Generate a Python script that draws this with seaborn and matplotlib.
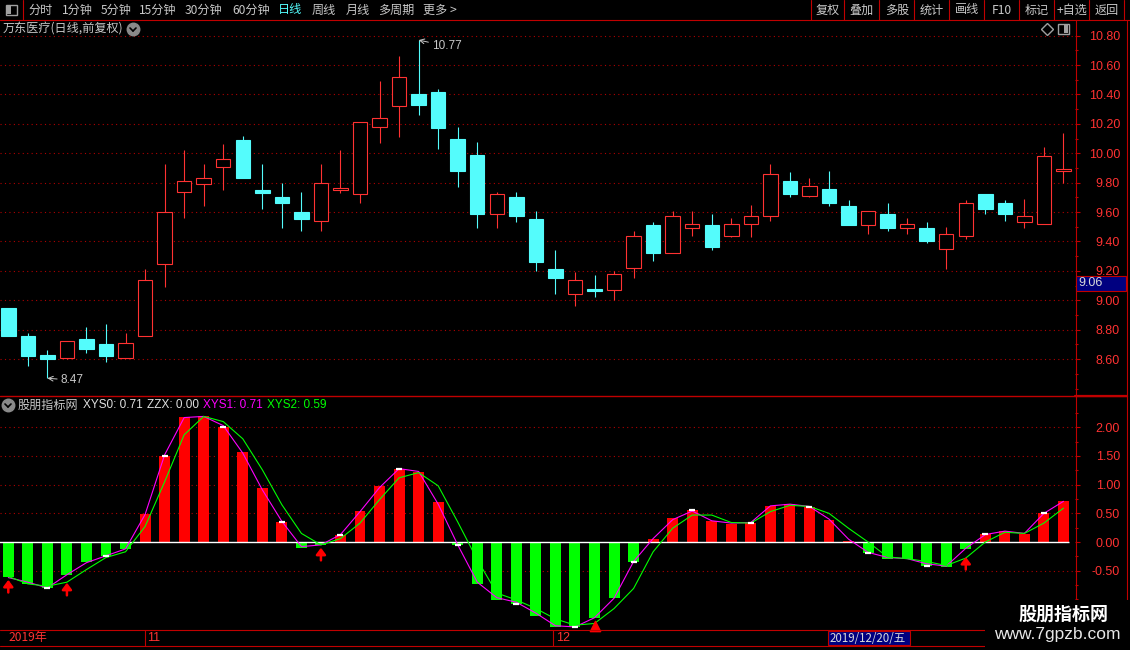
import numpy as np
import pandas as pd
import matplotlib
matplotlib.use("Agg")
import matplotlib.pyplot as plt
import seaborn as sns
from matplotlib.lines import Line2D
from matplotlib.patches import Rectangle

# 日线数据 (万东医疗, 前复权)
opens = [8.95, 8.76, 8.63, 8.61, 8.74, 8.70, 8.61, 8.76, 9.25, 9.74,
         9.79, 9.91, 10.09, 9.75, 9.70, 9.60, 9.54, 9.75, 9.72, 10.18,
         10.32, 10.40, 10.42, 10.10, 9.99, 9.59, 9.70, 9.55, 9.21, 9.04,
         9.075, 9.07, 9.22, 9.51, 9.32, 9.49, 9.51, 9.44, 9.52, 9.57,
         9.81, 9.71, 9.76, 9.64, 9.51, 9.59, 9.49, 9.49, 9.35, 9.44,
         9.72, 9.66, 9.53, 9.52, 9.878]
closes = [8.76, 8.62, 8.60, 8.72, 8.67, 8.62, 8.71, 9.14, 9.60, 9.81,
          9.83, 9.96, 9.83, 9.73, 9.66, 9.55, 9.80, 9.762, 10.21, 10.24,
          10.52, 10.33, 10.17, 9.88, 9.59, 9.72, 9.57, 9.26, 9.15, 9.14,
          9.065, 9.18, 9.44, 9.32, 9.57, 9.52, 9.36, 9.52, 9.57, 9.86,
          9.72, 9.78, 9.66, 9.51, 9.61, 9.49, 9.52, 9.40, 9.45, 9.66,
          9.62, 9.59, 9.57, 9.98, 9.891]
highs = [8.95, 8.78, 8.66, 8.72, 8.82, 8.84, 8.78, 9.21, 9.93, 10.02,
         9.93, 10.06, 10.12, 9.93, 9.80, 9.74, 9.93, 10.02, 10.21, 10.49,
         10.66, 10.77, 10.44, 10.18, 10.08, 9.74, 9.74, 9.61, 9.34, 9.19,
         9.17, 9.20, 9.47, 9.53, 9.61, 9.61, 9.59, 9.56, 9.65, 9.93,
         9.87, 9.83, 9.88, 9.68, 9.61, 9.66, 9.56, 9.53, 9.50, 9.68,
         9.72, 9.68, 9.69, 10.04, 10.14]
lows = [8.76, 8.55, 8.47, 8.60, 8.64, 8.58, 8.61, 8.76, 9.09, 9.56,
        9.64, 9.75, 9.83, 9.62, 9.49, 9.47, 9.47, 9.73, 9.66, 10.07,
        10.11, 10.26, 10.03, 9.77, 9.49, 9.49, 9.53, 9.20, 9.04, 8.96,
        9.02, 9.00, 9.15, 9.27, 9.32, 9.44, 9.34, 9.43, 9.43, 9.54,
        9.70, 9.70, 9.64, 9.51, 9.45, 9.47, 9.45, 9.39, 9.21, 9.42,
        9.59, 9.54, 9.49, 9.52, 9.80]

# 股朋指标网 指标
xys0 = [-0.61, -0.73, -0.80, -0.58, -0.34, -0.25, -0.12, 0.49, 1.50, 2.18,
        2.19, 2.01, 1.57, 0.94, 0.35, -0.10, -0.05, 0.12, 0.54, 0.97,
        1.27, 1.22, 0.70, -0.05, -0.73, -1.01, -1.08, -1.29, -1.48, -1.49,
        -1.32, -0.98, -0.34, 0.05, 0.42, 0.56, 0.37, 0.31, 0.34, 0.63,
        0.66, 0.61, 0.38, 0.02, -0.19, -0.29, -0.30, -0.41, -0.44, -0.12,
        0.14, 0.19, 0.14, 0.51, 0.71]
xys1 = [-0.62, -0.70, -0.80, -0.57, -0.36, -0.24, -0.12, 0.48, 1.52, 2.17,
        2.19, 2.03, 1.55, 0.91, 0.36, -0.08, -0.05, 0.13, 0.53, 0.95,
        1.28, 1.23, 0.66, -0.05, -0.70, -0.97, -1.05, -1.24, -1.46, -1.48,
        -1.32, -0.98, -0.34, 0.06, 0.39, 0.54, 0.37, 0.33, 0.34, 0.63,
        0.66, 0.62, 0.40, 0.05, -0.18, -0.27, -0.29, -0.38, -0.42, -0.11,
        0.13, 0.19, 0.15, 0.50, 0.71]
xys2 = [-0.60, -0.73, -0.77, -0.70, -0.48, -0.27, -0.17, 0.27, 1.05, 1.87,
        2.19, 2.10, 1.80, 1.26, 0.65, 0.15, -0.05, 0.06, 0.33, 0.74,
        1.12, 1.21, 0.98, 0.35, -0.31, -0.89, -1.01, -1.16, -1.34, -1.45,
        -1.42, -1.16, -0.81, -0.17, 0.24, 0.47, 0.47, 0.34, 0.33, 0.53,
        0.64, 0.62, 0.50, 0.24, 0.00, -0.26, -0.29, -0.34, -0.41, -0.28,
        0.00, 0.17, 0.15, 0.33, 0.59]
zzx_idx = [2, 5, 8, 11, 14, 17, 20, 23, 26, 29, 32, 35, 38, 41, 44, 47, 50, 53]
buy_idx = [0, 3, 16, 49]
buy_top = [-0.66, -0.71, -0.10, -0.26]
tri_idx = [30]
tri_val = [-1.47]

price_ticks = [8.6, 8.8, 9.0, 9.2, 9.4, 9.6, 9.8, 10.0, 10.2, 10.4, 10.6, 10.8]
ind_ticks = [-0.5, 0.0, 0.5, 1.0, 1.5, 2.0]

RED = "#ff3232"
CYAN = "#54fcfc"
SEP = "#c00000"
GRID = "#b00000"
GRAY = "#c8c8c8"
CJK = ["Noto Sans CJK SC", "DejaVu Sans"]
NUM = ["Liberation Sans", "DejaVu Sans"]

sns.set_theme(style="dark", rc={"axes.facecolor": "black", "figure.facecolor": "black"})
plt.rcParams["font.family"] = CJK

W, H = 1130, 650
fig = plt.figure(figsize=(W / 100, H / 100), dpi=100, facecolor="black")


def line(x0, y0, x1, y1, c=SEP, lw=0.8, z=5):
    fig.add_artist(Line2D([x0 / W, x1 / W], [1 - y0 / H, 1 - y1 / H], color=c, lw=lw, zorder=z))


def label(x, y, s, **kw):
    kw.setdefault("family", CJK)
    kw.setdefault("color", GRAY)
    kw.setdefault("fontsize", 8.7)
    return fig.text(x / W, 1 - y / H, s, va="center", **kw)


def box(x0, y0, x1, y1, fc, ec="none", lw=0.8, z=6):
    fig.add_artist(Rectangle((x0 / W, 1 - y1 / H), (x1 - x0) / W, (y1 - y0) / H,
                             facecolor=fc, edgecolor=ec, lw=lw, zorder=z))


ax1 = fig.add_axes([0, 1 - 396 / H, 1075 / W, (396 - 22) / H])
ax2 = fig.add_axes([0, 1 - 630 / H, 1075 / W, (630 - 396) / H])

df = pd.DataFrame({"idx": np.arange(len(opens)), "open": opens, "close": closes,
                   "high": highs, "low": lows, "xys0": xys0, "xys1": xys1, "xys2": xys2})
df["dir"] = np.where(df["xys0"] >= 0, "up", "dn")
up = df[df["close"] >= df["open"]]
dn = df[df["close"] < df["open"]]

# K线
ax1.vlines(up["idx"], up["low"], up["high"], color=RED, lw=0.8, zorder=2)
ax1.vlines(dn["idx"], dn["low"], dn["high"], color=CYAN, lw=0.8, zorder=2)
ax1.bar(up["idx"], up["close"] - up["open"], bottom=up["open"], width=0.74,
        facecolor="black", edgecolor=RED, linewidth=0.8, zorder=3)
ax1.bar(dn["idx"], dn["open"] - dn["close"], bottom=dn["close"], width=0.74,
        facecolor=CYAN, edgecolor=CYAN, linewidth=0.8, zorder=3)

hi = int(np.argmax(highs))
lo = int(np.argmin(lows))
ax1.annotate(f"{highs[hi]:.2f}", xy=(hi, highs[hi]), xytext=(13, -6), textcoords="offset pixels",
             color=GRAY, fontsize=8.5, family=NUM, va="center",
             arrowprops=dict(arrowstyle="->", color=GRAY, lw=0.7, shrinkA=0, shrinkB=0))
ax1.annotate(f"{lows[lo]:.2f}", xy=(lo, lows[lo]), xytext=(13, -2), textcoords="offset pixels",
             color=GRAY, fontsize=8.5, family=NUM, va="center",
             arrowprops=dict(arrowstyle="->", color=GRAY, lw=0.7, shrinkA=0, shrinkB=0))

ax1.set_xlim(-0.425, 54.59)
ax1.set_ylim(8.349, 10.893)
for t in price_ticks:
    ax1.axhline(t, color=GRID, lw=0.8, ls=(0, (1, 3)), zorder=1)

# 指标
sns.barplot(data=df, x="idx", y="xys0", hue="dir", palette={"up": "#ff0000", "dn": "#00ff00"},
            native_scale=True, width=0.56, dodge=False, errorbar=None, legend=False,
            saturation=1, linewidth=0, ax=ax2, zorder=3)
ax2.hlines(0, -0.5, 54.3, color="white", lw=1.0, zorder=4)
sns.lineplot(x=df["idx"], y=df["xys1"], color="#ff00ff", lw=0.8, ax=ax2, zorder=5)
sns.lineplot(x=df["idx"], y=df["xys2"], color="#00ff00", lw=0.8, ax=ax2, zorder=5)
zz = df.loc[zzx_idx]
ax2.scatter(zz["idx"], zz["xys0"], marker="_", s=22, color="white", linewidths=1.6, zorder=6)
for i, t in zip(buy_idx, buy_top):
    ax2.annotate("", xy=(i, t), xytext=(i, t - 0.22),
                 arrowprops=dict(arrowstyle="-|>,head_length=0.32,head_width=0.24", color="#ff0000",
                                 lw=1.8, mutation_scale=12, shrinkA=0, shrinkB=0), zorder=7)
ax2.scatter(tri_idx, tri_val, marker="^", s=55, color="#ff0000", zorder=7, clip_on=False)
for t in ind_ticks:
    if t != 0:
        ax2.axhline(t, color=GRID, lw=0.8, ls=(0, (1, 3)), zorder=1)
ax2.set_xlim(-0.425, 54.59)
ax2.set_ylim(-1.534, 2.546)
ax2.set_xlabel("")
ax2.set_ylabel("")

for ax, ticks, minor in [(ax1, price_ticks, np.arange(8.4, 10.9, 0.1)),
                         (ax2, ind_ticks, np.arange(-1.25, 2.5, 0.25))]:
    ax.set_facecolor("black")
    ax.grid(False)
    for s in ax.spines.values():
        s.set_visible(False)
    ax.set_xticks([])
    ax.yaxis.tick_right()
    ax.set_yticks(ticks)
    ax.set_yticks(minor, minor=True)
    ax.set_yticklabels([f"{t:.2f}" for t in ticks])
    ax.tick_params(axis="y", which="major", direction="out", length=3.6, width=0.8,
                   color=SEP, labelcolor=RED, labelsize=9, pad=28.8)
    ax.tick_params(axis="y", which="minor", direction="out", length=2.2, width=0.8, color=SEP)
    for lab in ax.get_yticklabels():
        lab.set_ha("right")
        lab.set_family(NUM)

# 顶部工具栏
line(0, 19.5, W, 19.5)
line(23, 0, 23, 19.5)
box(6, 5, 17, 15, "none", "#a0a0a0", lw=1.0)
box(7, 6, 11, 14, "#a0a0a0")
menu = ["分时", "1分钟", "5分钟", "15分钟", "30分钟", "60分钟", "日线", "周线", "月线", "多周期", "更多 >"]
menu_x = [28, 62, 101, 139, 185, 232, 278, 312, 346, 378, 423]
for s, x in zip(menu, menu_x):
    label(x, 10, s, color=CYAN if s == "日线" else GRAY)
seps = [810.7, 844.3, 879.3, 914.3, 949.3, 984.3, 1019.3, 1054.3, 1089.3, 1124.3]
btns = ["复权", "叠加", "多股", "统计", "画线", "F10", "标记", "+自选", "返回"]
for x in seps:
    line(x, 0, x, 19.5)
for s, a, b in zip(btns, seps[:-1], seps[1:]):
    label((a + b) / 2, 10, s, ha="center")

# 标题
label(3, 29, "万东医疗(日线,前复权)")
fig.add_artist(Line2D([133 / W], [1 - 29 / H], marker="o", ms=9, color="#8a8a8a", lw=0))
line(130, 28, 133, 31, c="black", lw=1.2, z=7)
line(133, 31, 136, 28, c="black", lw=1.2, z=7)
fig.add_artist(Line2D([1047 / W], [1 - 29 / H], marker="D", ms=6, mfc="none", mec="#a0a0a0", lw=0))
box(1058, 24, 1069, 34, "none", "#a0a0a0", lw=1.0)
box(1064, 25, 1068, 33, "#a0a0a0")

# 边框
line(1075.5, 19.5, 1075.5, 646)
line(1127, 19.5, 1127, 600)
line(0, 396, 1127, 396, lw=1.0)
line(1075, 396, 1127, 396, lw=1.6)
line(0, 630, 985, 630)
line(0, 646, 985, 646)
for x in [145, 553]:
    line(x, 630, x, 646)

# 当前价格标签
box(1076, 276, 1126, 291, "#000080", SEP)
label(1078, 283.5, "9.06", family=NUM, fontsize=9, color="#d8d8d8", zorder=8)

# 指标图例
fig.add_artist(Line2D([8 / W], [1 - 405 / H], marker="o", ms=9, color="#8a8a8a", lw=0))
line(5, 404, 8, 407, c="black", lw=1.2, z=7)
line(8, 407, 11, 404, c="black", lw=1.2, z=7)
label(18, 405, "股朋指标网")
label(83, 405, f"XYS0: {xys0[-1]:.2f}", family=NUM, fontsize=8.5, color="#e0e0e0")
label(147, 405, "ZZX: 0.00", family=NUM, fontsize=8.5, color="#e0e0e0")
label(203, 405, f"XYS1: {xys1[-1]:.2f}", family=NUM, fontsize=8.5, color="#ff00ff")
label(267, 405, f"XYS2: {xys2[-1]:.2f}", family=NUM, fontsize=8.5, color="#00ff00")

# 日期轴
label(8, 638, "2019年", color=RED)
label(147, 638, "11", family=NUM, fontsize=9, color=RED)
label(556, 638, "12", family=NUM, fontsize=9, color=RED)
box(828, 631, 910, 645, "#000080", SEP)
label(830, 638, "2019/12/20/五", fontsize=8.3, color="#d8d8d8", zorder=8)

# 水印
box(985, 600, 1130, 650, "black", z=9)
label(1063, 614, "股朋指标网", ha="center", fontsize=13, fontweight="bold", color="white", zorder=10)
label(1057, 635, "www.7gpzb.com", ha="center", family=NUM, fontsize=12.5, color="#e8e8e8", zorder=10)

fig.savefig("out.png", dpi=100, facecolor="black")
